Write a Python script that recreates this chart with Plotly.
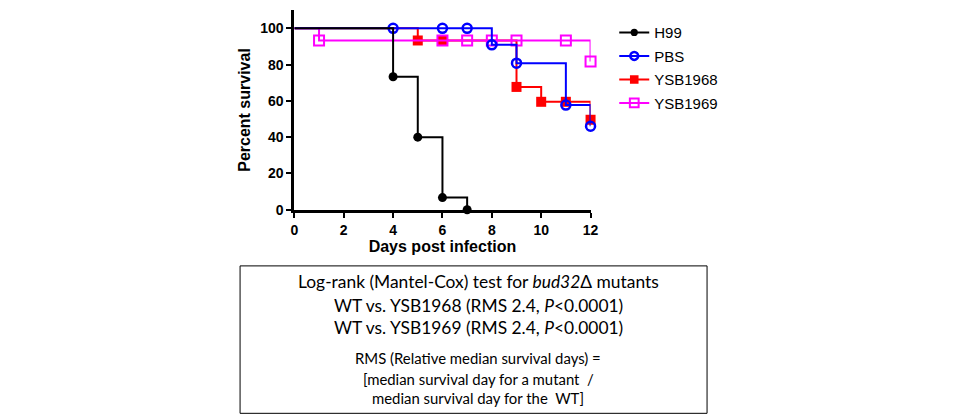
import plotly.graph_objects as go

# survival curves (Kaplan-Meier steps)
h99_days = [0, 4, 5, 6, 7]
h99_surv = [100, 73.3, 40, 6.7, 0]

pbs_days = [0, 4, 6, 7, 8, 9, 11, 12]
pbs_surv = [100, 100, 100, 100, 90.9, 80.8, 57.7, 46.0]

ysb1968_days = [0, 5, 6, 9, 10, 11, 12]
ysb1968_surv = [100, 93.3, 93.3, 67.7, 59.5, 59.5, 49.6]

ysb1969_days = [0, 1, 6, 7, 8, 9, 11, 12]
ysb1969_surv = [100, 93.3, 93.3, 93.3, 93.3, 93.3, 93.3, 81.7]

x_ticks = [0, 2, 4, 6, 8, 10, 12]
y_ticks = [0, 20, 40, 60, 80, 100]

box_big = [
    "Log-rank (Mantel-Cox) test for <i>bud32</i>Δ mutants",
    "WT vs. YSB1968 (RMS 2.4, <i>P</i><0.0001)",
    "WT vs. YSB1969 (RMS 2.4, <i>P</i><0.0001)",
]
box_small = [
    "RMS (Relative median survival days) =",
    "[median survival day for a mutant  /",
    "median survival day for the  WT]",
]

# page offset (body margin) and the vertical squeeze seen in the snapshots
OFF = 8
SY = 0.978
W, H = 944, 416


def px(x):
    return (x - OFF) / W


def py(y):
    return 1 - (y / SY - OFF) / H


series = [
    # drawn in this order so overlaps look like the original
    ("YSB1968", ysb1968_days, ysb1968_surv, "#ff0000", "square", 10, 0, 3),
    ("YSB1969", ysb1969_days, ysb1969_surv, "#ff00ff", "square-open", 10, 2, 4),
    ("PBS", pbs_days, pbs_surv, "#0000ff", "circle-open", 9, 2.5, 2),
    ("H99", h99_days, h99_surv, "#000000", "circle", 9, 0, 1),
]

fig = go.Figure()
for name, xs, ys, col, sym, ms, lw, rank in series:
    fig.add_trace(
        go.Scatter(
            x=xs,
            y=ys,
            name=name,
            legendgroup=name,
            mode="lines+markers",
            line=dict(color=col, width=2, shape="hv"),
            marker=dict(
                color=col,
                symbol=sym,
                opacity=1,
                # first point only starts the step line, no symbol there
                size=[0] + [ms] * (len(xs) - 1),
                line=dict(color=col, width=lw),
            ),
            cliponaxis=False,
            legendrank=rank,
        )
    )

axis_font = dict(family="Liberation Sans", size=14, color="black", weight="bold")
title_font = dict(family="Liberation Sans", size=16, color="black", weight="bold")

fig.update_xaxes(
    domain=[px(294), px(594)],
    range=[0, 12],
    tickvals=x_ticks,
    ticks="outside",
    ticklen=5,
    tickwidth=2,
    tickcolor="black",
    showline=True,
    linewidth=3,
    linecolor="black",
    showgrid=False,
    zeroline=False,
    tickfont=axis_font,
    title=dict(text="Days post infection", font=title_font, standoff=5),
    layer="below traces",
)
fig.update_yaxes(
    domain=[py(209), py(10)],
    range=[0, 110],
    tickvals=y_ticks,
    ticks="outside",
    ticklen=5,
    tickwidth=2,
    tickcolor="black",
    showline=True,
    linewidth=3,
    linecolor="black",
    showgrid=False,
    zeroline=False,
    tickfont=axis_font,
    title=dict(text="Percent survival", font=title_font, standoff=6),
    layer="below traces",
)

annotations = []
for i, t in enumerate(box_big):
    annotations.append(dict(
        x=px(480), y=py([281, 304, 326][i]), xref="paper", yref="paper",
        text=t, showarrow=False, xanchor="center", yanchor="middle",
        font=dict(family="Lato", size=17.4, color="black"),
    ))
for i, t in enumerate(box_small):
    annotations.append(dict(
        x=px(480), y=py([357, 378, 397][i]), xref="paper", yref="paper",
        text=t, showarrow=False, xanchor="center", yanchor="middle",
        font=dict(family="Lato", size=14.9, color="black"),
    ))

fig.update_layout(
    width=W,
    height=H,
    margin=dict(l=0, r=0, t=0, b=0),
    plot_bgcolor="white",
    paper_bgcolor="white",
    showlegend=True,
    legend=dict(
        x=px(618), y=py(16), xanchor="left", yanchor="top",
        font=dict(family="Liberation Sans", size=15, color="black"),
        bgcolor="rgba(0,0,0,0)",
        tracegroupgap=1,
    ),
    annotations=annotations,
    shapes=[dict(
        type="rect", xref="paper", yref="paper",
        x0=px(239), x1=px(712), y0=py(412), y1=py(265),
        line=dict(color="black", width=1),
    )],
)

fig.write_html("out.html")
